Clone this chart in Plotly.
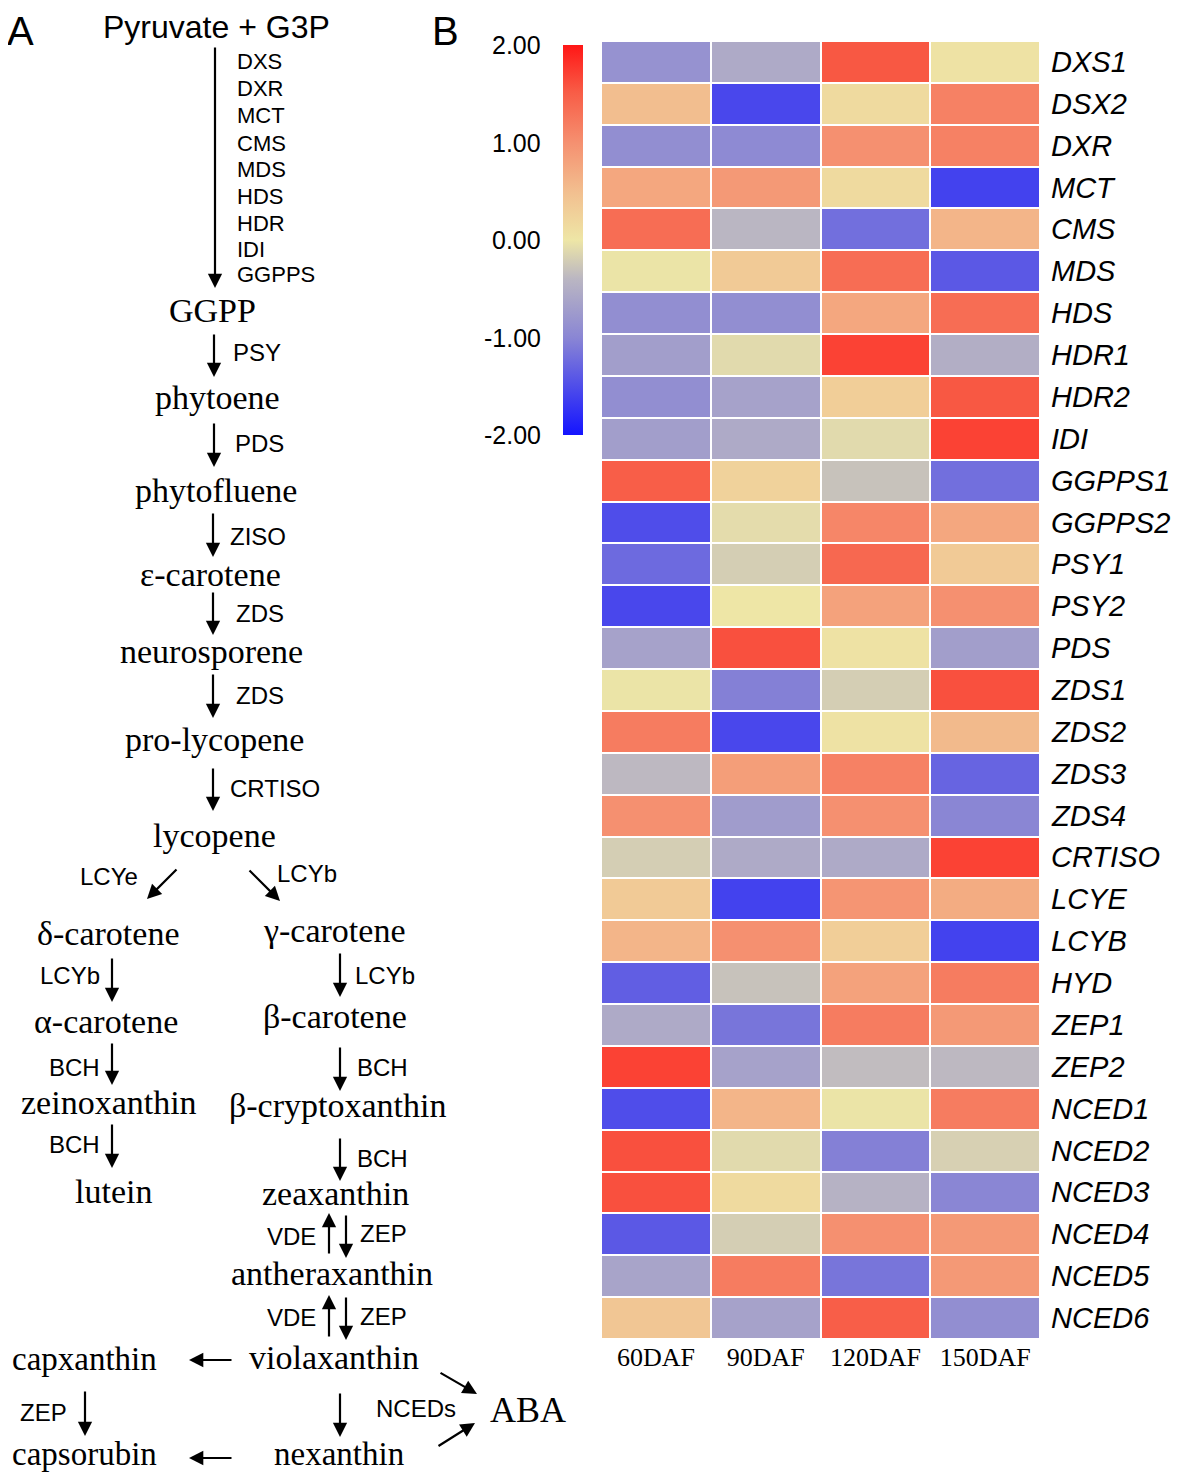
import plotly.graph_objects as go

# page has an 8px body margin: figure is drawn at (8, 8)
OFF = 8
W, H = 1181 - OFF, 1478 - OFF

stages = ["60DAF", "90DAF", "120DAF", "150DAF"]
genes = ["DXS1", "DSX2", "DXR", "MCT", "CMS", "MDS", "HDS", "HDR1", "HDR2", "IDI",
         "GGPPS1", "GGPPS2", "PSY1", "PSY2", "PDS", "ZDS1", "ZDS2", "ZDS3", "ZDS4",
         "CRTISO", "LCYE", "LCYB", "HYD", "ZEP1", "ZEP2", "NCED1", "NCED2", "NCED3",
         "NCED4", "NCED5", "NCED6"]

v60 = [-0.85, 0.5, -0.9, 0.75, 1.35, -0.02, -0.9, -0.7, -0.9, -0.7,
       1.5, -1.5, -1.25, -1.55, -0.65, -0.02, 1.2, -0.38, 1.0,
       -0.2, 0.35, 0.6, -1.35, -0.55, 1.7, -1.5, 1.6, 1.6,
       -1.4, -0.62, 0.4]
v90 = [-0.55, -1.55, -0.95, 0.9, -0.4, 0.35, -0.9, -0.1, -0.65, -0.55,
       0.25, -0.08, -0.2, 0.0, 1.6, -1.05, -1.55, 0.85, -0.72,
       -0.55, -1.6, 1.0, -0.3, -1.15, -0.65, 0.6, -0.1, 0.15,
       -0.2, 1.2, -0.65]
v120 = [1.55, 0.15, 1.0, 0.15, -1.2, 1.35, 0.75, 1.7, 0.3, -0.1,
        -0.3, 1.1, 1.4, 0.8, 0.05, -0.2, 0.05, 1.15, 1.0,
        -0.55, 0.95, 0.3, 0.8, 1.2, -0.35, -0.02, -1.05, -0.45,
        1.0, -1.15, 1.5]
v150 = [0.05, 1.15, 1.15, -1.6, 0.6, -1.4, 1.35, -0.5, 1.55, 1.7,
        -1.2, 0.75, 0.35, 1.0, -0.7, 1.6, 0.55, -1.3, -1.0,
        1.7, 0.7, -1.6, 1.2, 0.9, -0.38, 1.2, -0.18, -1.0,
        0.9, 0.9, -0.9]

cbar_ticks = [2, 1, 0, -1, -2]
cbar_ticktext = ["2.00", "1.00", "0.00", "-1.00", "-2.00"]

mep_enzymes = ["DXS", "DXR", "MCT", "CMS", "MDS", "HDS", "HDR", "IDI", "GGPPS"]

z = [[a, b, c, d] for a, b, c, d in zip(v60, v90, v120, v150)]

colorscale = [
    [0.0, "#1414ff"],
    [0.25, "#8a86d4"],
    [0.40, "#bab6c2"],
    [0.50, "#eee6a6"],
    [0.62, "#f2c090"],
    [0.75, "#f59070"],
    [0.88, "#f85c46"],
    [1.0, "#ff1616"],
]


def px(x):
    return (x - OFF) / W


def py(y):
    return 1 - (y - OFF) / H


cb_top, cb_bot = 45, 435

fig = go.Figure()
fig.add_trace(go.Heatmap(
    z=z, x=stages, y=genes, zmin=-2, zmax=2, colorscale=colorscale,
    xgap=2, ygap=2,
    colorbar=dict(
        x=px(563), xanchor="left", y=py(cb_top), yanchor="top",
        thickness=20, thicknessmode="pixels",
        len=cb_bot - cb_top, lenmode="pixels",
        outlinewidth=0, showticklabels=False, ticks="",
        xpad=0, ypad=0,
    ),
))

fig.update_layout(
    width=W, height=H,
    margin=dict(l=0, r=0, t=0, b=0),
    plot_bgcolor="white", paper_bgcolor="white",
    xaxis=dict(domain=[px(601), px(1040)], showgrid=False, zeroline=False,
               showline=False, ticks="", side="bottom",
               tickfont=dict(family="Liberation Serif", size=26, color="black")),
    yaxis=dict(domain=[py(1339), py(41)], autorange="reversed",
               showgrid=False, zeroline=False, showline=False,
               showticklabels=False, ticks=""),
    showlegend=False,
)

ann = []

# colorbar labels
for v, t in zip(cbar_ticks, cbar_ticktext):
    yy = cb_bot - (v + 2) / 4 * (cb_bot - cb_top)
    ann.append(dict(x=px(543), y=py(yy), xref="paper", yref="paper", text=t,
                    showarrow=False, xanchor="right", yanchor="middle",
                    font=dict(family="Liberation Sans", size=25, color="black")))

# gene labels
for g in genes:
    ann.append(dict(x=px(1049), y=g, xref="paper", yref="y", text="<i>" + g + "</i>",
                    showarrow=False, xanchor="left", yanchor="middle",
                    font=dict(family="Liberation Sans", size=29, color="black")))

SERIF = "Liberation Serif"
SANS = "Liberation Sans"


def txt(t, x, y, size=34, fam=SERIF, anchor="center", yanchor="middle"):
    ann.append(dict(x=px(x), y=py(y), xref="paper", yref="paper", text=t,
                    showarrow=False, xanchor=anchor, yanchor=yanchor, borderpad=0,
                    font=dict(family=fam, size=size, color="black")))


def enz(t, x, y, anchor="left", size=24):
    txt(t, x, y, size=size, fam=SANS, anchor=anchor)


def arrow(x0, y0, x1, y1):
    ann.append(dict(x=px(x1), y=py(y1), xref="paper", yref="paper",
                    ax=x0 - x1, ay=y0 - y1, axref="pixel", ayref="pixel",
                    text="", showarrow=True, arrowhead=2, arrowsize=1.3,
                    arrowwidth=2.2, arrowcolor="black", standoff=0, startstandoff=0))


# panel letters
txt("A", 20, 31, size=40, fam=SANS)
txt("B", 445, 31, size=40, fam=SANS)

txt("Pyruvate + G3P", 216, 27, size=32, fam=SANS)
arrow(215, 46, 215, 288)
for name, yy in zip(mep_enzymes, [62, 89, 116, 143, 170, 197, 223, 249, 274]):
    enz(name, 236, yy, size=22)

txt("GGPP", 212, 310)
arrow(214, 333, 214, 377)
enz("PSY", 232, 352)
txt("phytoene", 217, 397)
arrow(214, 422, 214, 467)
enz("PDS", 234, 444)
txt("phytofluene", 216, 490)
arrow(213, 512, 213, 557)
enz("ZISO", 229, 536)
txt("ε-carotene", 210, 574)
arrow(213, 591, 213, 635)
enz("ZDS", 235, 613)
txt("neurosporene", 211, 651)
arrow(213, 673, 213, 718)
enz("ZDS", 235, 695)
txt("pro-lycopene", 214, 739)
arrow(213, 767, 213, 811)
enz("CRTISO", 229, 788)
txt("lycopene", 214, 835)

# branches
arrow(178, 868, 147, 899)
enz("LCYe", 79, 876)
arrow(248, 869, 280, 901)
enz("LCYb", 276, 873)

txt("δ-carotene", 108, 933)
arrow(112, 957, 112, 1002)
enz("LCYb", 101, 975, anchor="right")
txt("α-carotene", 106, 1021)
arrow(112, 1042, 112, 1085)
enz("BCH", 101, 1067, anchor="right")
txt("zeinoxanthin", 109, 1102)
arrow(112, 1123, 112, 1168)
enz("BCH", 101, 1144, anchor="right")
txt("lutein", 113, 1191)

txt("γ-carotene", 334, 930)
arrow(340, 952, 340, 997)
enz("LCYb", 354, 975)
txt("β-carotene", 335, 1016)
arrow(340, 1046, 340, 1091)
enz("BCH", 356, 1067)
txt("β-cryptoxanthin", 337, 1105)
arrow(340, 1137, 340, 1181)
enz("BCH", 356, 1158)
txt("zeaxanthin", 335, 1193)

arrow(329, 1255, 329, 1213)
arrow(346, 1214, 346, 1258)
enz("VDE", 317, 1236, anchor="right")
enz("ZEP", 359, 1233)
txt("antheraxanthin", 332, 1273)
arrow(329, 1338, 329, 1295)
arrow(346, 1296, 346, 1340)
enz("VDE", 317, 1317, anchor="right")
enz("ZEP", 359, 1316)
txt("violaxanthin", 334, 1357)

txt("capxanthin", 84, 1359, size=33)
arrow(233, 1360, 189, 1360)
arrow(85, 1390, 85, 1436)
enz("ZEP", 68, 1412, anchor="right")
txt("capsorubin", 84, 1454, size=33)
arrow(233, 1458, 189, 1458)
txt("nexanthin", 339, 1454, size=33)
arrow(340, 1392, 340, 1437)
enz("NCEDs", 375, 1408)
arrow(439, 1372, 477, 1394)
arrow(437, 1447, 475, 1423)
txt("ABA", 528, 1410, size=36)

fig.update_layout(annotations=ann)
fig.write_html("out.html")
